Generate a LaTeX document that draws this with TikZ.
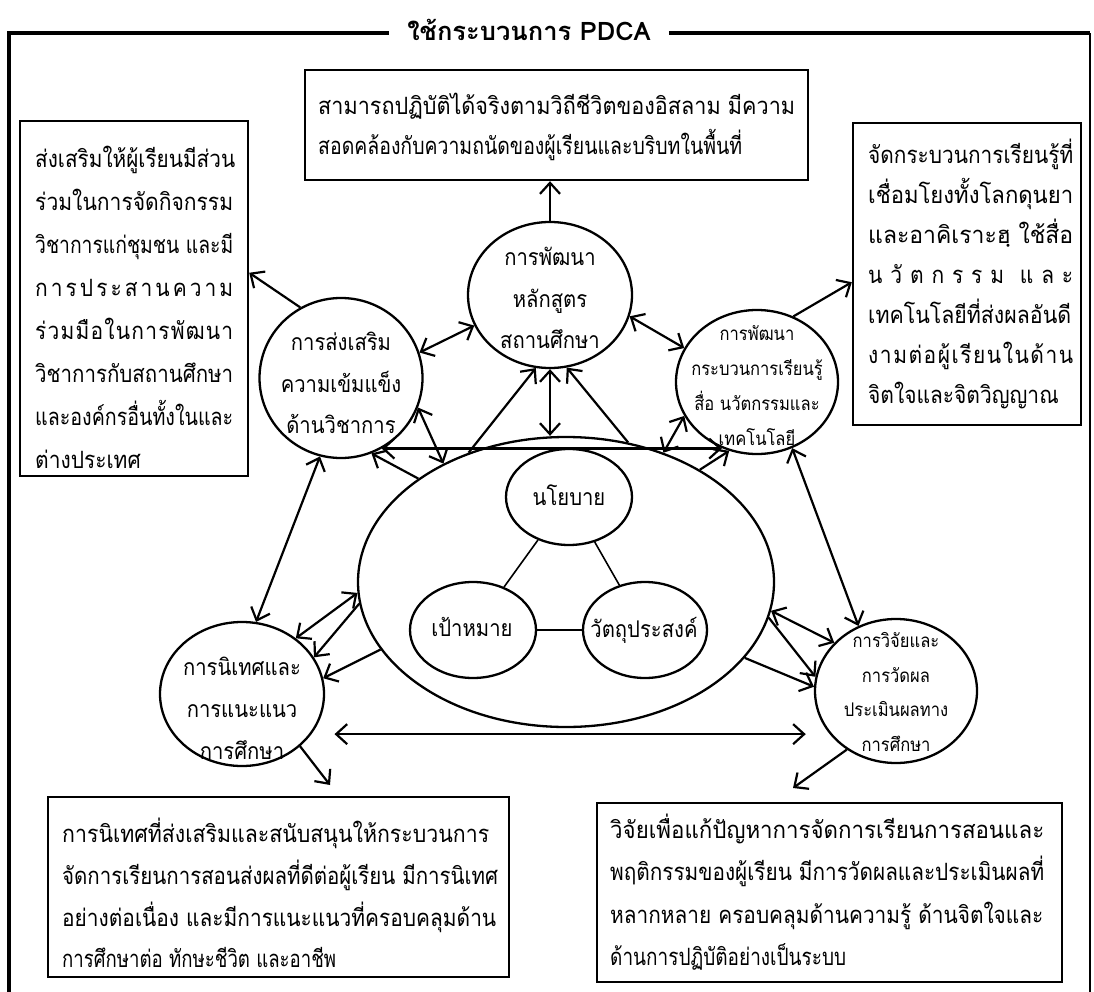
\documentclass[tikz,border=0pt]{standalone}
\usepackage{fontspec}
\newfontfamily\thai[Script=Thai,FakeStretch=0.88]{Loma}
\newfontfamily\thaititle[Script=Thai]{Loma}
\usetikzlibrary{shapes.geometric,arrows.meta,calc}
\newcommand\spreadline[2]{\makebox[#1][s]{#2}}
\newcommand\fitline[2]{\resizebox{#1}{\height}{#2}}
\begin{document}
\begin{tikzpicture}[x=1pt,y=-1pt,
  circ/.style={draw, ellipse, line width=2.3pt, inner sep=0pt},
  box/.style={draw, rectangle, line width=2.4pt, inner sep=0pt},
  btext/.style={font=\thai\fontsize{23.8}{42.5}\selectfont, align=left, inner sep=0pt, anchor=west},
  ctext/.style={font=\thai\fontsize{23}{41.5}\selectfont, align=center, inner sep=0pt},
  stext/.style={font=\thai\fontsize{18.8}{35}\selectfont, align=center, inner sep=0pt},
  tip/.tip={Straight Barb[length=11pt,width=20pt]},
  arr/.style={line width=2.2pt, -tip},
  dbl/.style={line width=2.2pt, tip-tip},
  link/.style={line width=1.6pt},
  frame/.style={line width=4.5pt},
  thinframe/.style={line width=2.2pt}]
\useasboundingbox (0,0) rectangle (1094,992);
\fill[white] (0,0) rectangle (1094,992);

% frame and title
\coordinate (ftl) at (9,33);
\coordinate (ftr) at (1090,33);
\coordinate (fbl) at (9,992);
\coordinate (fbr) at (1090,992);
\node[font=\thaititle\bfseries\fontsize{25.5}{30}\selectfont, inner xsep=18pt, inner ysep=0pt] (title) at (529,30) {ใช้กระบวนการ PDCA};
\draw[frame] (fbl) -- (ftl) -- (ftl -| title.west);
\draw[frame] (ftr -| title.east) -- (ftr);
\draw[thinframe] (ftr) -- (fbr);

% boxes
\node[box, minimum width=503pt, minimum height=110pt] (topbox) at (556.5,125) {};
\node[btext, font=\thai\fontsize{23.8}{40}\selectfont] (topboxt) at (318,127) {\fitline{477pt}{สามารถปฏิบัติได้จริงตามวิถีชีวิตของอิสลาม มีความ}\\\fitline{424pt}{สอดคล้องกับความถนัดของผู้เรียนและบริบทในพื้นที่}};

\node[box, minimum width=228pt, minimum height=355pt] (lbox) at (134,298.5) {};
\node[btext, font=\thai\fontsize{23.8}{43}\selectfont] (lboxt) at (35,307) {\fitline{200pt}{ส่งเสริมให้ผู้เรียนมีส่วน}\\\fitline{198pt}{ร่วมในการจัดกิจกรรม}\\\fitline{198pt}{วิชาการแก่ชุมชน และมี}\\\spreadline{198pt}{ก\hfil า\hfil ร\hfil ป\hfil ร\hfil ะ\hfil ส\hfil า\hfil น\hfil ค\hfil ว\hfil า\hfil ม}\\\spreadline{198pt}{ร่\hfil ว\hfil ม\hfil มื\hfil อ\hfil ใ\hfil น\hfil ก\hfil า\hfil ร\hfil พั\hfil ฒ\hfil น\hfil า}\\\fitline{198pt}{วิชาการกับสถานศึกษา}\\\fitline{198pt}{และองค์กรอื่นทั้งในและ}\\ต่างประเทศ};

\node[box, minimum width=228pt, minimum height=302pt] (rbox) at (967,274) {};
\node[btext, font=\thai\fontsize{23.8}{40}\selectfont] (rboxt) at (868,274) {\fitline{205pt}{จัดกระบวนการเรียนรู้ที่}\\\fitline{205pt}{เชื่อมโยงทั้งโลกดุนยา}\\\fitline{205pt}{และอาคิเราะฮฺ ใช้สื่อ}\\\spreadline{205pt}{น\hfil วั\hfil ต\hfil ก\hfil ร\hfil ร\hfil ม\hfil\hfil แ\hfil ล\hfil ะ}\\\fitline{203pt}{เทคโนโลยีที่ส่งผลอันดี}\\\spreadline{205pt}{ง\hfil า\hfil ม\hfil ต่\hfil อ\hfil ผู้\hfil เ\hfil รี\hfil ย\hfil น\hfil ใ\hfil น\hfil ด้\hfil า\hfil น}\\จิตใจและจิตวิญญาณ};

\node[box, minimum width=461pt, minimum height=180pt] (blbox) at (278.5,887) {};
\node[btext, font=\thai\fontsize{23.8}{41.7}\selectfont] (blboxt) at (62,893) {\fitline{427pt}{การนิเทศที่ส่งเสริมและสนับสนุนให้กระบวนการ}\\\fitline{436pt}{จัดการเรียนการสอนส่งผลที่ดีต่อผู้เรียน มีการนิเทศ}\\\fitline{434pt}{อย่างต่อเนื่อง และมีการแนะแนวที่ครอบคลุมด้าน}\\\fitline{274pt}{การศึกษาต่อ ทักษะชีวิต และอาชีพ}};

\node[box, minimum width=465pt, minimum height=179pt] (brbox) at (829.5,892.5) {};
\node[btext, font=\thai\fontsize{23.8}{42.5}\selectfont] (brboxt) at (610,892) {\fitline{434pt}{วิจัยเพื่อแก้ปัญหาการจัดการเรียนการสอนและ}\\\fitline{434pt}{พฤติกรรมของผู้เรียน มีการวัดผลและประเมินผลที่}\\\fitline{433pt}{หลากหลาย ครอบคลุมด้านความรู้ ด้านจิตใจและ}\\\fitline{236pt}{ด้านการปฏิบัติอย่างเป็นระบบ}};

% circles
\node[circ, minimum width=164pt, minimum height=146pt] (tc) at (550,295) {};
\node[ctext] (tct) at (550,298) {การพัฒนา\\หลักสูตร\\สถานศึกษา};
\node[circ, minimum width=163pt, minimum height=160pt] (lc) at (341,378) {};
\node[ctext] (lct) at (341,383) {การส่งเสริม\\ความเข้มแข็ง\\ด้านวิชาการ};
\node[circ, minimum width=162pt, minimum height=144pt] (rc) at (757,382) {};
\node[stext] (rct) at (757,386) {การพัฒนา\\กระบวนการเรียนรู้\\สื่อ นวัตกรรมและ\\เทคโนโลยี};
\node[circ, minimum width=416pt, minimum height=290pt] (el) at (566,582) {};
\node[circ, minimum width=126pt, minimum height=96pt] (nb) at (569,497) {};
\node[ctext] (nbt) at (569,495) {นโยบาย};
\node[circ, minimum width=126pt, minimum height=96pt] (gm) at (473,630) {};
\node[ctext] (gmt) at (472,627) {เป้าหมาย};
\node[circ, minimum width=124pt, minimum height=96pt] (vt) at (645,630) {};
\node[ctext] (vtt) at (644,630) {วัตถุประสงค์};
\node[circ, minimum width=164pt, minimum height=144pt] (blc) at (242,694) {};
\node[ctext, font=\thai\fontsize{23}{42}\selectfont] (blct) at (242,708) {การนิเทศและ\\การแนะแนว\\การศึกษา};
\node[circ, minimum width=162pt, minimum height=144pt] (brc) at (896,691) {};
\node[stext, font=\thai\fontsize{18.8}{34.5}\selectfont] (brct) at (896,692) {การวิจัยและ\\การวัดผล\\ประเมินผลทาง\\การศึกษา};

% free arrow ends
\coordinate (lboxin) at ($(lbox.north east)!0.428!(lbox.south east)$);
\coordinate (rboxin) at ($(rbox.north west)!0.527!(rbox.south west)$);
\coordinate (blarr) at (330,785);
\coordinate (brarr) at (793,788);

% connectors
\draw[arr] (tc.north) -- (tc.north |- topbox.south);
\draw[arr] (lc.120) -- (lboxin);
\draw[arr] (rc.61) -- (rboxin);
\draw[dbl] (lc.18) -- (tc.202);
\draw[dbl] (tc.-15) -- (rc.155);
\draw[arr] (el.127) -- (tc.259);
\draw[dbl] (tc.south) -- (tc.south |- el.north);
\draw[arr] (el.66) -- (tc.-77);
\draw[dbl] (lc.-21) -- (el.136);
\draw[dbl] (lc.-60) -- (lc.-60 -| rc.-118);
\draw[arr] (el.145) -- (lc.-68);
\draw[dbl] (el.53) -- (rc.205);
\draw[arr] (el.40) -- (rc.-112);
\draw[dbl] (rc.-62) -- (brc.120);
\draw[dbl] (el.-8) -- (brc.142);
\draw[arr] (el.-10) -- (brc.170);
\draw[arr] (el.-23) -- (brc.177);
\draw[dbl] (lc.-105) -- (blc.79);
\draw[dbl] (el.183) -- (blc.46);
\draw[arr] (el.186) -- (blc.27);
\draw[arr] (el.200) -- (blc.11);
\draw[dbl, shorten <=23pt, shorten >=23pt] (blc.-30) -- (blc.-30 -| brc.-148);
\draw[arr] (blc.-42) -- (blarr);
\draw[arr] (brc.-130) -- (brarr);
\draw[link] (nb) -- (gm);
\draw[link] (nb) -- (vt);
\draw[link] (gm) -- (vt);
\end{tikzpicture}
\end{document}
